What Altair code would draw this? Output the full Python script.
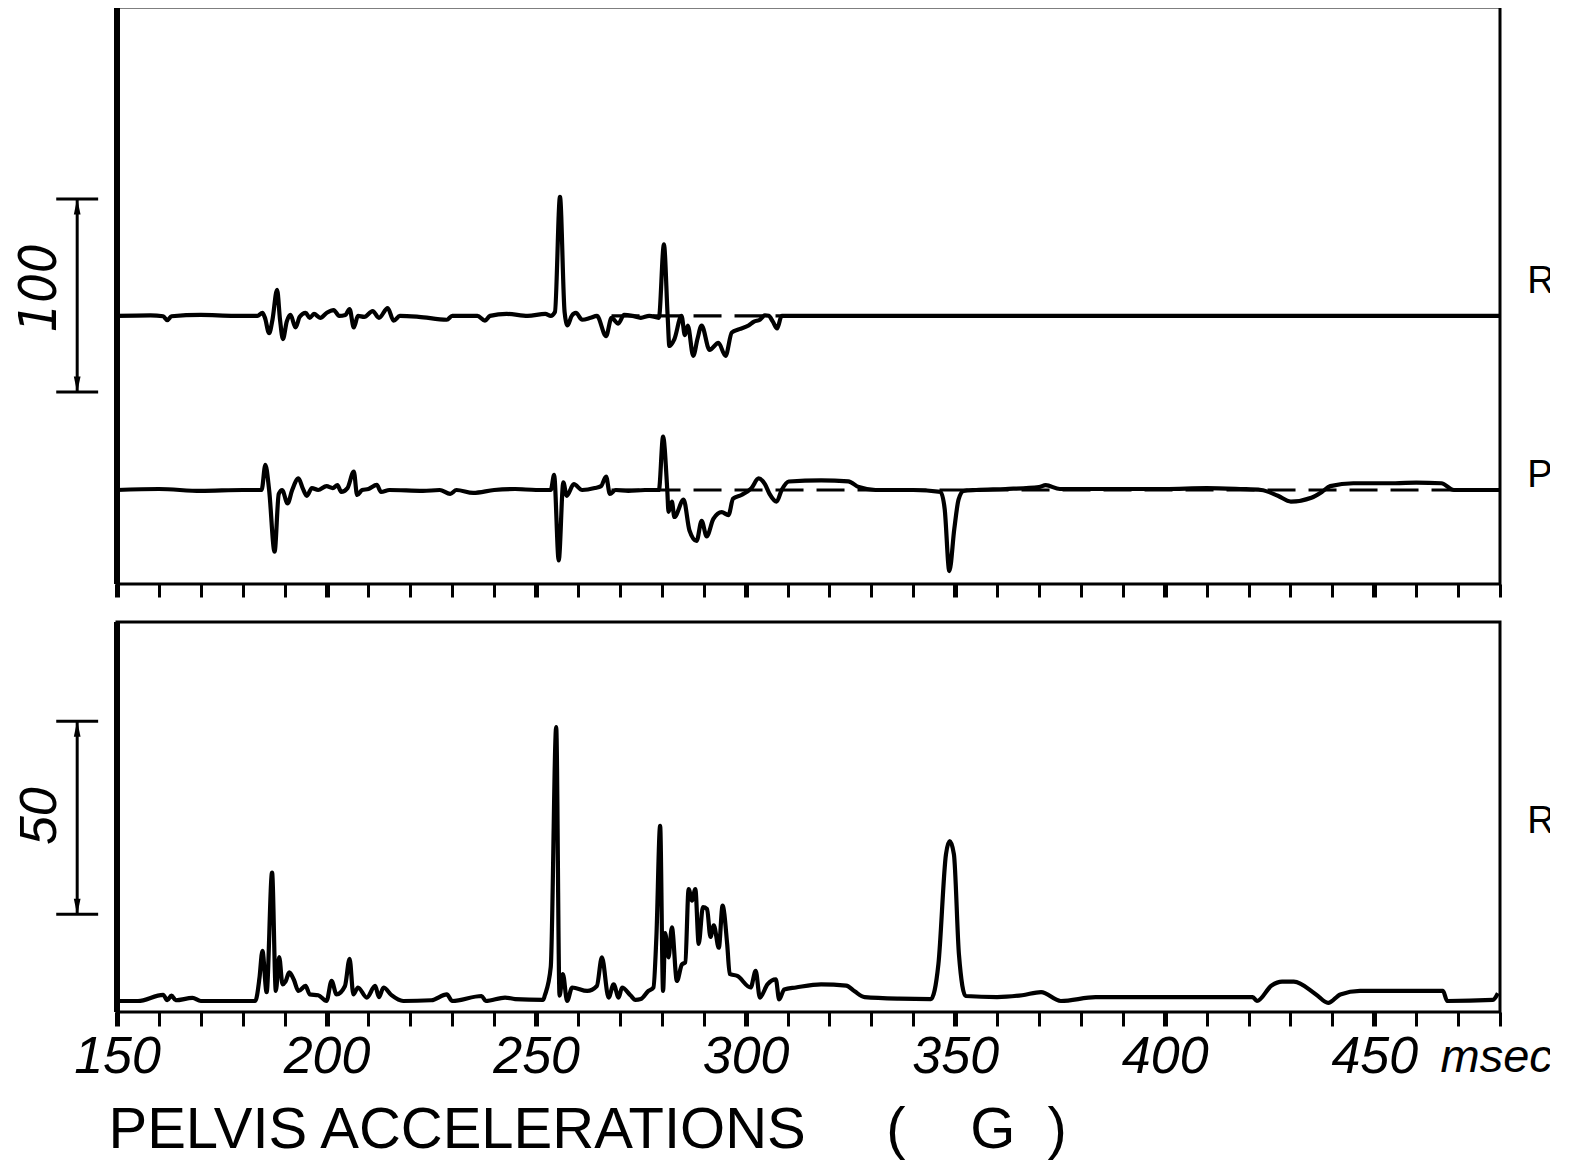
import altair as alt
import pandas as pd

# ---------------- data ----------------
# Top panel, upper trace "R" (G)
r_t = [150, 158, 161, 162, 163, 170, 178, 183.5, 184.7, 185.3, 186.3, 187.1, 188.2, 188.9, 189.6,
       190.5, 191.4, 192.6, 193.6, 195, 196, 197, 198.5, 200, 201.7, 203, 204.5, 205.5, 206.5,
       207.5, 209, 211, 212.5, 214.6, 216, 217.5, 222, 228.7, 230, 236, 237.8, 239, 243, 248,
       252.2, 253.5, 254.5, 255.7, 256.8, 257.5, 258.5, 259.5, 261, 263, 264.5, 266.7, 268,
       269.6, 271, 273, 275, 277, 279.3, 280.5, 281.4, 281.8, 283, 284.7, 285.5, 286.2, 287.5,
       288.5, 289.5, 291.4, 293.5, 295.2, 296.7, 298.5, 300.7, 302, 303.4, 304.6, 305.5, 306.5,
       307.5, 308.6, 480]
r_v = [0, 0.3, -0.2, -2.2, -0.2, 0.5, 0, 0, 1.5, -1, -9, -2, 13.5, -2, -12,
       -3, 0.5, -6, -0.5, 1.5, -1, 1, -1, 1.5, 3, 0, 0.5, 3.5, -6,
       0, -0.5, 2.5, -1, 4, -2.5, 0, -0.5, -2, 0, 0, -2.5, 0, 1, 0,
       1, 0, 2, 61.6, 2, -5, 0, 1.5, -2, -1, 0, -10.5, -1,
       -4, 0.5, 0, -1, 0, -1, 37, -0.5, -15.6, -12, 0, -10, -5, -20.7,
       -12, -5, -17.6, -14, -20.7, -8.6, -6.9, -5, -3, -2, 0.3, 0, -3,
       -6.5, 0, 0]

# Top panel, lower trace "P" (G)
p_t = [150, 160, 170, 180, 184.5, 185.4, 186.3, 187.6, 188.6, 189.4, 190.7, 191.8, 193.3, 194.3,
       195.3, 196.5, 198, 200, 201.5, 202.6, 203.5, 205, 206.5, 207.3, 208.5, 210, 212, 213, 215,
       223, 227, 229.5, 231, 235, 240, 245, 250, 253.5, 254.3, 255.4, 256.5, 257.3, 259, 261, 264,
       265.5, 266.7, 267.6, 269, 272, 276, 279.3, 280.3, 281.3, 281.6, 282.4, 283, 285.2, 286.6,
       288.3, 289.5, 290.7, 292.3, 294.3, 295.9, 297, 299, 301.4, 303.1, 304.6, 305.7, 307.4,
       308.6, 310.3, 318, 324.5, 327, 331, 340, 346.5, 347.5, 348.6, 349.8, 350.8, 352, 355, 362,
       370, 371.6, 375, 385, 400, 410, 418, 423, 427, 430.1, 435, 437.5, 439.5, 445, 455, 460,
       466, 469, 480]
p_v = [0, 0.5, -0.5, 0, 0, 13, 0, -32, -2, 0, -7, 0, 6, 1,
       -3, 1, 0, 2, 1, 2.5, -1, 1, 9.5, -2.6, 0, 0.5, 2.6, -1, 0,
       -0.5, 0, -2, 0, -1.5, 0, 0.5, 0, 0, 7.8, -36.5, 4, -3, 3, 0, 1,
       2, 7, -2, 0, -0.5, 0, 0, 27.6, 0, -11.3, -6, -14, -5, -21,
       -26.4, -16, -24, -15, -11.5, -13, -4.5, -2.6, 1, 6, 3, -2, -6,
       0, 4.4, 5, 4.5, 1.5, 0, 0, -1, -10, -42, -20, -5, -0.5, 0, 0.5,
       1.5, 2.5, 0.5, 0.5, 0.5, 1, 0.5, 0, -3, -6, -4, -1, 2, 3.5, 3.5, 3.8,
       3.5, 0, 0]

# Bottom panel, resultant trace (G)
b_t = [150, 155, 161, 162, 163, 164, 168, 170, 183, 184, 184.7, 185.7, 187, 187.9, 188.7, 189.5,
       190.2, 191.1, 192.2, 193.3, 195, 196, 198, 200, 201.2, 202.4, 204.4, 205.5, 206.4, 207.5,
       209.6, 211.6, 212.5, 213.6, 215.5, 218.3, 225, 228.7, 230, 237, 238, 242.6, 245, 251.7,
       252.1, 253.5, 254.8, 255.6, 256.4, 257.4, 258.6, 262.2, 264.5, 265.7, 267.3, 268.5, 269.7,
       270.5, 272.5, 273.7, 275, 276.8, 278, 278.7, 279.6, 280.3, 280.8, 281.6, 282.4, 283.6,
       284.8, 285.6, 286.4, 287.2, 288, 288.8, 289.8, 290.8, 291.6, 292.4, 293.6, 294.5, 295.6,
       296.2, 298, 301.2, 302.4, 303.4, 305.2, 307.2, 308, 309.2, 312, 318, 324, 326, 328.4,
       336.6, 344.2, 346, 347.8, 348.7, 349.7, 350.9, 352.5, 360, 366, 370.5, 375.2, 383.5, 400,
       421, 422, 425.5, 428, 430.8, 436.1, 439, 441.9, 446.6, 455, 466.4, 467.4, 478.3, 479.5]
b_v = [0, 0, 1.6, 0.2, 1.4, 0.2, 0.8, 0, 0, 6, 13, 2.3, 33.3, 2.6, 11.4, 4.3,
       5, 7.4, 5.5, 2.6, 3.9, 1.7, 1.5, 0, 5.2, 1.7, 3.9, 10.9, 1.7, 3.5,
       0.9, 3.9, 1, 3.5, 1.5, 0, 0.2, 1.7, 0, 1.3, 0, 0.9, 0.5, 0.3,
       1.5, 8.8, 71, 1.4, 7, 0, 3.5, 2.6, 3.9, 11.3, 0.9, 4.3, 0.9,
       3.5, 1.5, 0.3, 0.5, 2.6, 3.5, 16.5, 45.4, 2.6, 17.6, 11.3, 19.1, 5.2,
       9.5, 10, 29, 26, 29, 14.8, 24.3, 23.8, 16.6, 19.6, 13.8, 24.7, 14.7,
       7, 6.5, 3.5, 7.8, 0.9, 4.3, 5.6, 0.4, 3, 3.5, 4.3, 4, 2.5, 1,
       0.6, 0.5, 9.6, 38, 41.4, 38, 12, 1.3, 1, 1.5, 2.3, 0, 1, 1,
       1, 0, 4, 5, 5, 1.7, -0.5, 1.7, 2.6, 2.6, 2.6, 0, 0.3, 2]

tick_values = list(range(150, 481, 10))
right_labels = ["R", "P", "Re"]
scale_labels = ["100", "50"]
NB = "\u00a0"
x_title = "PELVIS ACCELERATIONS" + NB * 5 + "(" + NB * 4 + "G" + NB * 2 + ")"

# ---------------- layout ----------------
W = 1383
H_TOP = 577
H_BOT = 390
X_DOM = [150, 480]
R_DOM = [-138.9, 160.0]
P_DOM = [-48.7, 250.2]
B_DOM = [-2.85, 98.2]

NARROW = "'Liberation Sans Narrow', 'DejaVu Sans Condensed', 'Liberation Sans'"

xs = alt.Scale(domain=X_DOM, nice=False, zero=False)
tick_w = {"condition": {"test": "datum.value % 50 === 0", "value": 5}, "value": 3}

ax_top = alt.Axis(values=tick_values, labels=False, ticks=True, tickSize=13, tickWidth=tick_w,
                  tickColor="black", domain=False, grid=False, title=None)
ax_bot = alt.Axis(values=tick_values, ticks=True, tickSize=14, tickWidth=tick_w, tickColor="black",
                  domain=False, grid=False,
                  labelExpr="(datum.value % 50 === 0 && datum.value < 480) ? datum.label : ''",
                  labelFont="Liberation Sans", labelFontStyle="italic", labelFontSize=52,
                  labelColor="black", labelBaseline="alphabetic", labelPadding=46,
                  labelFlush=False, labelOverlap=False,
                  title=x_title, titleFont="Liberation Sans", titleFontSize=58,
                  titleFontWeight="normal", titleColor="black", titleAnchor="start",
                  titleAlign="left", titleBaseline="alphabetic", titleX=-9, titleY=135)


def X(field, ax):
    return alt.X(field, type="quantitative", scale=xs, axis=ax)


def Y(field, dom):
    return alt.Y(field, type="quantitative", scale=alt.Scale(domain=dom, nice=False, zero=False), axis=None)


arrow_up = "M0,-1L0.42,1L-0.42,1Z"
arrow_dn = "M0,1L0.42,-1L-0.42,-1Z"


def trace(t, v, dom, ax):
    df = pd.DataFrame({"t": t, "v": v})
    return alt.Chart(df).mark_line(color="black", strokeWidth=4.2, interpolate="monotone",
                                   strokeJoin="round").encode(x=X("t", ax), y=Y("v", dom))


def zero_dash(dom, ax):
    df = pd.DataFrame({"a": [268], "b": [480], "z": [0]})
    return alt.Chart(df).mark_rule(color="black", strokeWidth=3.2, strokeDash=[28, 13]).encode(
        x=X("a", ax), x2="b", y=Y("z", dom))


def left_border(ax):
    df = pd.DataFrame({"a": [150]})
    return alt.Chart(df).mark_rule(color="black", strokeWidth=6).encode(x=X("a", ax))


def scale_bar(ax, dom, lo, hi, label, lab_y, font, arrow_off):
    segs = pd.DataFrame({"a": [140.5, 135.5, 135.5], "b": [140.5, 145.5, 145.5],
                         "y1": [lo, hi, lo], "y2": [hi, hi, lo]})
    bar = alt.Chart(segs).mark_rule(color="black", strokeWidth=3).encode(
        x=X("a", ax), x2="b", y=Y("y1", dom), y2="y2")
    up = alt.Chart(pd.DataFrame({"a": [140.5], "y": [hi - arrow_off]})).mark_point(
        shape=arrow_up, filled=True, size=256, color="black", opacity=1).encode(
        x=X("a", ax), y=Y("y", dom))
    dn = alt.Chart(pd.DataFrame({"a": [140.5], "y": [lo + arrow_off]})).mark_point(
        shape=arrow_dn, filled=True, size=256, color="black", opacity=1).encode(
        x=X("a", ax), y=Y("y", dom))
    txt = alt.Chart(pd.DataFrame({"a": [131.7], "y": [lab_y], "s": [label]})).mark_text(
        angle=270, font=font, fontStyle="italic", fontSize=52, color="black",
        align="center", baseline="middle").encode(x=X("a", ax), y=Y("y", dom), text="s:N")
    return [bar, up, dn, txt]


def side_label(ax, dom, yv, s):
    return alt.Chart(pd.DataFrame({"a": [486.5], "y": [yv], "s": [s]})).mark_text(
        font="Liberation Sans", fontSize=38, color="black", align="left", baseline="middle").encode(
        x=X("a", ax), y=Y("y", dom), text="s:N")


top_layers = [left_border(ax_top),
              zero_dash(R_DOM, ax_top), trace(r_t, r_v, R_DOM, ax_top),
              zero_dash(P_DOM, ax_top), trace(p_t, p_v, P_DOM, ax_top)]
top_layers += scale_bar(ax_top, R_DOM, -39.4, 60.6, scale_labels[0], 14.5, NARROW, 3.9)
top_layers += [side_label(ax_top, R_DOM, 17.6, right_labels[0]),
               side_label(ax_top, P_DOM, 7.0, right_labels[1])]
top = alt.layer(*top_layers).resolve_scale(y="independent").properties(width=W, height=H_TOP)

msec = alt.Chart(pd.DataFrame({"a": [465.8], "s": ["msec"]})).mark_text(
    font="Liberation Sans", fontStyle="italic", fontSize=47, color="black", align="left",
    baseline="alphabetic").encode(x=X("a", ax_bot), y=alt.value(H_BOT + 60), text="s:N")

bot_layers = [left_border(ax_bot), trace(b_t, b_v, B_DOM, ax_bot)]
bot_layers += scale_bar(ax_bot, B_DOM, 22.5, 72.5, scale_labels[1], 47.9, "Liberation Sans", 1.95)
bot_layers += [side_label(ax_bot, B_DOM, 46.5, right_labels[2]), msec]
bottom = alt.layer(*bot_layers).resolve_scale(y="independent").properties(width=W, height=H_BOT)

chart = alt.vconcat(top, bottom, spacing=38, bounds="flush").properties(
    padding={"left": 4, "top": -6, "right": -28, "bottom": 0}
).configure(background="white").configure_view(stroke="black", strokeWidth=3)

chart.save("out.html", embed_options={"renderer": "svg", "actions": False})
